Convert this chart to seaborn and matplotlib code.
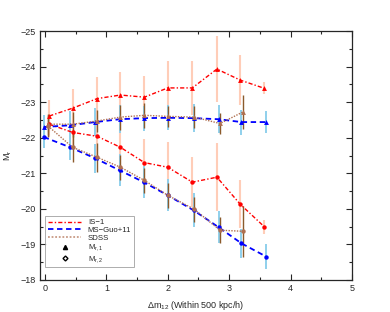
import numpy as np
import pandas as pd
import matplotlib
matplotlib.use("Agg")
import matplotlib.pyplot as plt
from matplotlib.lines import Line2D
import seaborn as sns

# IS-1 (red)
is_x = [0.07, 0.45, 0.85, 1.23, 1.62, 2.0, 2.4, 2.8, 3.18, 3.57]
is_m1 = [-22.61, -22.83, -23.1, -23.2, -23.14, -23.4, -23.4, -23.93, -23.62, -23.39]
is_m1_err = [0.45, 0.55, 0.6, 0.65, 0.6, 0.75, 0.75, 0.93, 0.7, 0.17]
is_m2 = [-22.38, -22.15, -22.04, -21.73, -21.3, -21.17, -20.75, -20.89, -20.13, -19.5]
is_m2_err = [0.35, 0.45, 0.6, 0.65, 0.65, 0.7, 0.7, 0.95, 0.68, 0.2]

# MS-Guo+11 (blue)
ms_x = [-0.02, 0.41, 0.82, 1.22, 1.61, 2.0, 2.42, 2.83, 3.2, 3.6]
ms_m1 = [-22.3, -22.35, -22.44, -22.52, -22.55, -22.56, -22.55, -22.52, -22.44, -22.44]
ms_m1_err = [0.35, 0.4, 0.4, 0.4, 0.35, 0.35, 0.4, 0.4, 0.35, 0.3]
ms_m2 = [-22.02, -21.73, -21.42, -21.08, -20.75, -20.38, -19.96, -19.48, -19.03, -18.66]
ms_m2_err = [0.3, 0.35, 0.4, 0.45, 0.45, 0.45, 0.48, 0.45, 0.4, 0.35]

# SDSS (brown)
sd_x = [0.05, 0.45, 0.85, 1.23, 1.62, 2.0, 2.43, 2.85, 3.22]
sd_m1 = [-22.38, -22.38, -22.47, -22.58, -22.63, -22.6, -22.58, -22.4, -22.72]
sd_m1_err = [0.3, 0.35, 0.3, 0.35, 0.35, 0.3, 0.3, 0.3, 0.48]
sd_m2 = [-22.33, -21.73, -21.45, -21.17, -20.8, -20.38, -19.99, -19.4, -19.37]
sd_m2_err = [0.3, 0.4, 0.4, 0.35, 0.35, 0.35, 0.35, 0.37, 0.72]

sns.set_style("ticks")
plt.rcParams['font.family'] = ['Liberation Sans', 'DejaVu Sans']
plt.rcParams['mathtext.fontset'] = 'custom'
plt.rcParams['mathtext.rm'] = 'Liberation Sans'
plt.rcParams['mathtext.it'] = 'Liberation Sans'

fig = plt.figure(figsize=(3.9, 3.12), dpi=100)
ax = fig.add_axes([0.1026, 0.1026, 0.8, 0.798])

series = [
    (is_x, is_m1, is_m1_err, is_m2, is_m2_err, "red", "#ffcdb8", (0, (3, 1.5, 1, 1.5)), 1.0, 1.5),
    (ms_x, ms_m1, ms_m1_err, ms_m2, ms_m2_err, "blue", "#8fd0ec", (0, (3, 2)), 1.3, 1.4),
    (sd_x, sd_m1, sd_m1_err, sd_m2, sd_m2_err, "#b07050", "#8b5a2b", (0, (1, 1)), 1.0, 1.0),
]

for x, m1, e1, m2, e2, col, ecol, ls, lw, elw in series:
    ax.errorbar(x, m1, yerr=e1, fmt="none", ecolor=ecol, elinewidth=elw, capsize=0, zorder=1)
    ax.errorbar(x, m2, yerr=e2, fmt="none", ecolor=ecol, elinewidth=elw, capsize=0, zorder=1)
    df1 = pd.DataFrame({"x": x, "y": m1})
    df2 = pd.DataFrame({"x": x, "y": m2})
    sns.lineplot(data=df1, x="x", y="y", ax=ax, color=col, lw=lw, linestyle=ls,
                 marker="^", markersize=3.5, markeredgewidth=0, sort=False, zorder=3)
    sns.lineplot(data=df2, x="x", y="y", ax=ax, color=col, lw=lw, linestyle=ls,
                 marker="o", markersize=3.2, markeredgewidth=0, sort=False, zorder=3)

ax.set_xlim(-0.08, 5)
ax.set_ylim(-18, -25)
ax.set_xticks([0, 1, 2, 3, 4, 5])
ax.set_yticks([-25, -24, -23, -22, -21, -20, -19, -18])
ax.set_xticks(np.arange(0, 5, 0.5), minor=True)
ax.set_yticks(np.arange(-25, -18, 0.5), minor=True)
ax.tick_params(which="both", direction="in", top=True, right=True, labelsize=6.5, width=0.8)
ax.tick_params(which="major", length=4, pad=3)
ax.tick_params(which="minor", length=2)
for s in ax.spines.values():
    s.set_linewidth(0.9)

ax.set_xlabel(r"$\Delta$m$_{12}$ (Within 500 kpc/h)", fontsize=6.5, labelpad=4)
ax.set_ylabel(r"M$_{\rm r}$", fontsize=6.5, labelpad=5)

handles = [
    Line2D([], [], color="red", lw=1.0, linestyle=(0, (3, 1.5, 1, 1.5))),
    Line2D([], [], color="blue", lw=1.3, linestyle=(0, (3, 2))),
    Line2D([], [], color="#c89a85", lw=1.3, linestyle=(0, (1, 1))),
    Line2D([], [], color="black", lw=0, marker="^", markersize=3),
    Line2D([], [], color="black", lw=0, marker="D", markersize=2.5,
           markerfacecolor="white", markeredgewidth=1),
]
labels = ["IS\u22121", "MS\u2212Guo+11", "SDSS", r"M$_{\rm r,1}$", r"M$_{\rm r,2}$"]
leg = ax.legend(handles, labels, loc="lower left", bbox_to_anchor=(0.005, 0.035),
                fontsize=5.6, frameon=True, fancybox=False, edgecolor="#888888",
                handlelength=4.2, labelspacing=0.05, borderpad=0.35, handletextpad=0.9)
leg.get_frame().set_linewidth(0.6)

fig.savefig("out.png", dpi=100)
